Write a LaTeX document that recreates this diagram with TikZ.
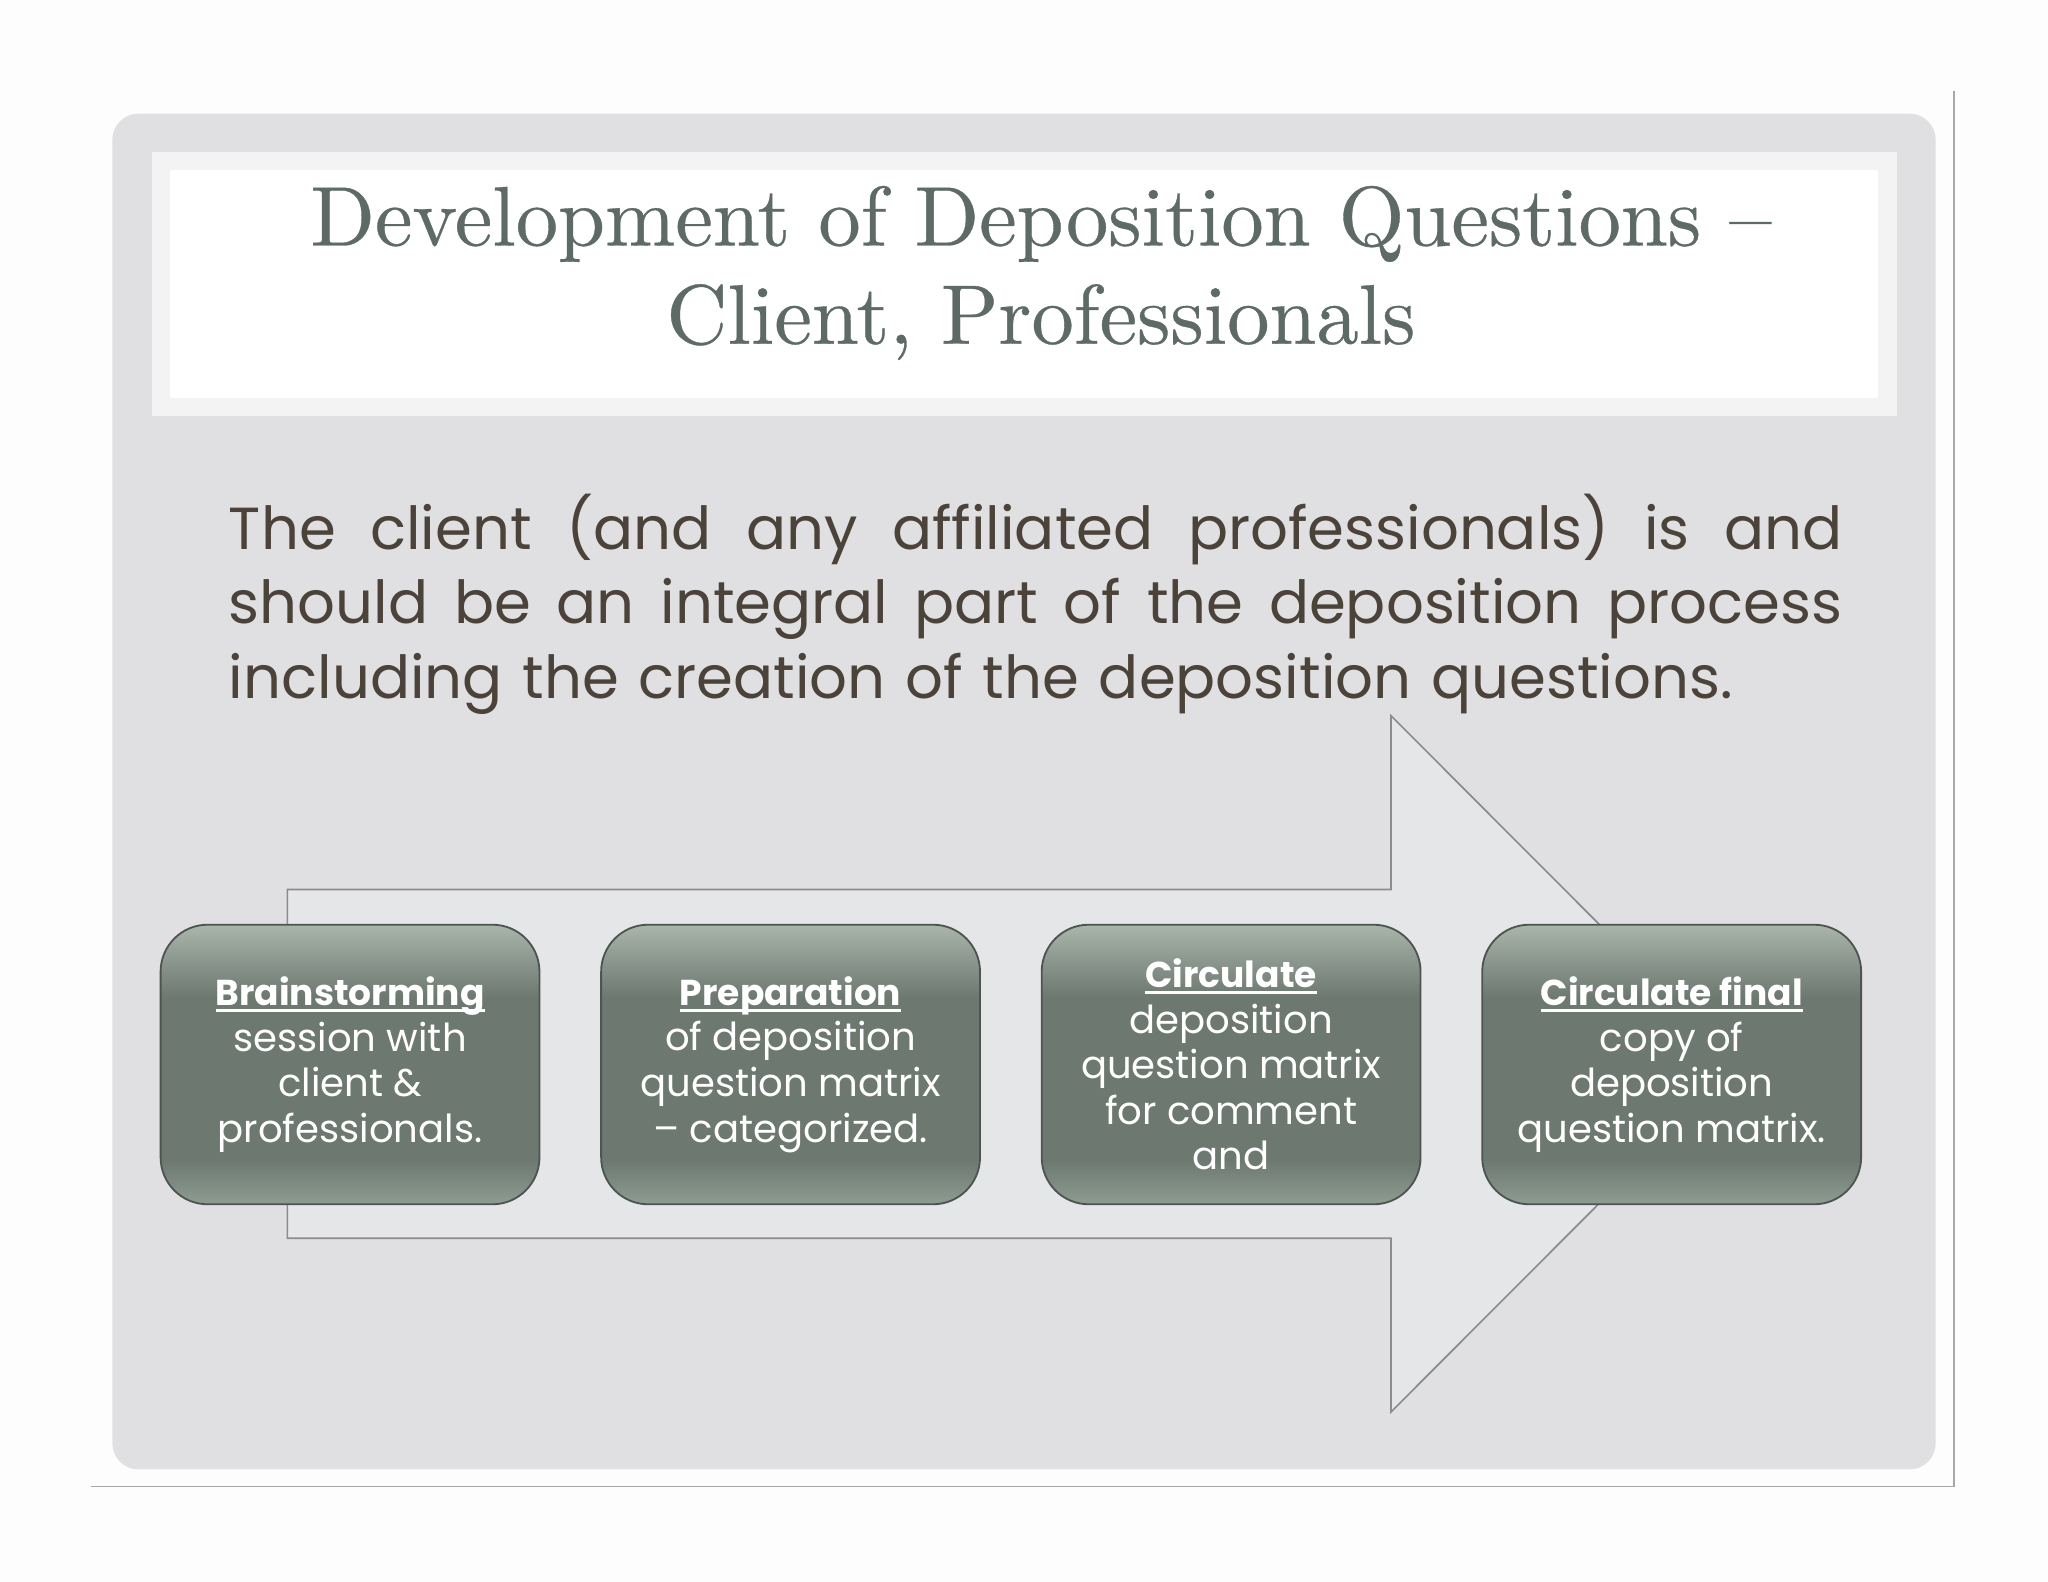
\documentclass[tikz,border=0pt]{standalone}
\usepackage{fontspec}
\newfontfamily\gothic{Poppins}
\newfontfamily\titlefont{lmroman10-regular.otf}[FakeBold=0.4]
\usetikzlibrary{positioning}

\definecolor{pagewhite}{HTML}{FDFDFD}
\definecolor{panelgray}{HTML}{E0DFE1}
\definecolor{framegray}{HTML}{A8A8A8}
\definecolor{titleedge}{HTML}{F3F3F3}
\definecolor{titleink}{HTML}{5E6A65}
\definecolor{bodyink}{HTML}{4B4339}
\definecolor{arrowfill}{HTML}{E4E6E7}
\definecolor{arrowedge}{HTML}{8C8C8C}
\definecolor{steptop}{HTML}{AAB6AC}
\definecolor{stepmid}{HTML}{6C7870}
\definecolor{stepbot}{HTML}{8E9C92}
\definecolor{stepedge}{HTML}{4E5450}

% gradient of the step boxes (path = 25bp..75bp)
\pgfdeclareverticalshading{stepshade}{100bp}{color(0bp)=(stepbot); color(25bp)=(stepbot);
  color(33bp)=(stepmid); color(62bp)=(stepmid); color(75bp)=(steptop); color(100bp)=(steptop)}

\newcommand\stephead[1]{\setbox0\hbox{\fontsize{19.6}{24.8}\selectfont\bfseries #1}%
  \rlap{\rule[-0.16em]{\wd0}{0.07em}}\box0}
% one justified line of the intro
\newcommand\fullline[1]{\hbox to 30.875cm{\spaceskip=\fontdimen2\font plus 1fil\relax #1}}

\tikzset{
  stepbox/.style={draw=stepedge, line width=1pt, shading=stepshade, rounded corners=0.9cm,
    minimum width=7.25cm, minimum height=5.35cm, align=center, text=white,
    font=\gothic\fontsize{21}{24.8}\selectfont},
  titletext/.style={align=center, text=titleink, font=\titlefont\fontsize{46}{53.5}\selectfont},
  introtext/.style={text width=30.875cm, inner sep=0pt, text=bodyink,
    font=\gothic\fontsize{32.3}{40.5}\selectfont},
  arrowshape/.style={fill=arrowfill, draw=arrowedge, line width=0.9pt}
}

\begin{document}
\begin{tikzpicture}[x=0.025cm,y=-0.025cm]
\useasboundingbox[fill=pagewhite] (0,0) rectangle (1568,1211);
% Fondo
\draw[framegray, line width=0.8pt] (70,1138) -- (1496,1138) -- (1496,70);
\fill[panelgray, rounded corners=0.5cm] (86,87) rectangle (1482,1125);
% Titulo
\draw[fill=white, draw=titleedge, line width=0.35cm] (123,123) rectangle (1445,311.5);
\node[titletext] (title) at (797,209) {Development of Deposition Questions –\\Client, Professionals};
% Texto
\node[introtext, anchor=north west] (intro) at (175,378) {%
\fullline{The client (and any affiliated professionals) is and}
\fullline{should be an integral part of the deposition process}
\hbox{including the creation of the deposition questions.}};
% Flecha
\draw[arrowshape] (220,681) -- (1065,681) -- (1065,548) -- (1331,814.5)
  -- (1065,1081) -- (1065,948) -- (220,948) -- cycle;
% Pasos
\node[stepbox] (brainstorm) at (268,815) {\stephead{Brainstorming}\\session with\\client \&\\professionals.};
\node[stepbox, right=1.145cm of brainstorm] (prepare) {\stephead{Preparation}\\of deposition\\question matrix\\– categorized.};
\node[stepbox, right=1.145cm of prepare] (circulate) {\stephead{Circulate}\\deposition\\question matrix\\for comment\\and};
\node[stepbox, right=1.145cm of circulate] (final) {\stephead{Circulate final}\\copy of\\deposition\\question matrix.};
\end{tikzpicture}
\end{document}
